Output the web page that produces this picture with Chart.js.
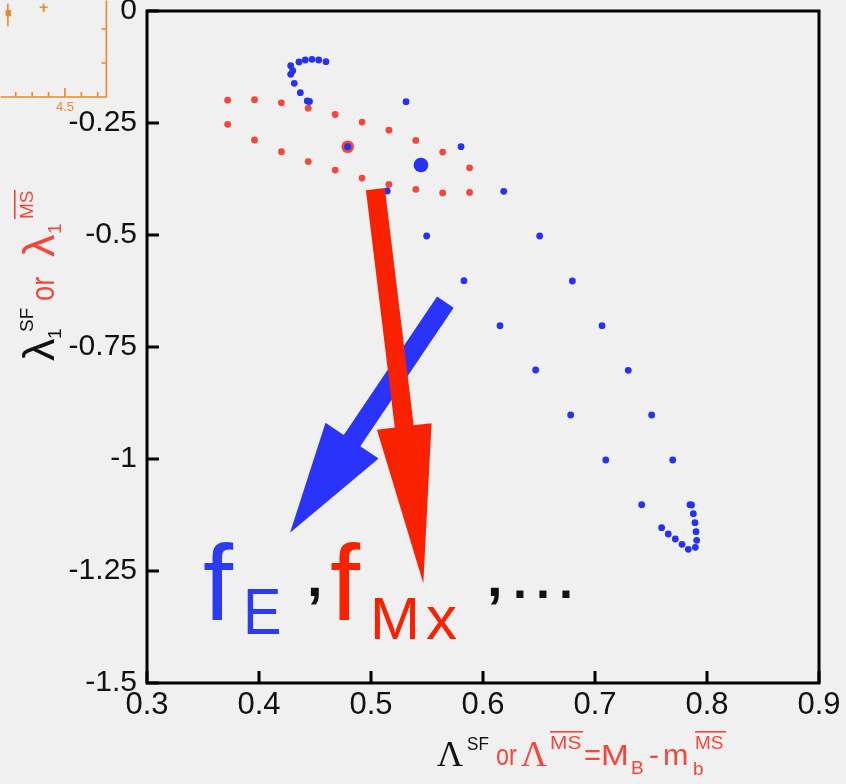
<!DOCTYPE html>
<html>
<head>
<meta charset="utf-8">
<script src="https://cdn.jsdelivr.net/npm/chart.js@4.4.1/dist/chart.umd.min.js"></script>
<style>
  html, body { margin: 0; padding: 0; background: #f0f0f0; }
  #wrap { position: relative; width: 846px; height: 784px; overflow: hidden; }
  canvas { position: absolute; left: 0; top: 0; }
</style>
</head>
<body>
<div id="wrap">
  <canvas id="inset" width="112" height="118"></canvas>
  <canvas id="main" width="846" height="784"></canvas>
</div>
<script>
// --- Data ---
const xTicks = [0.3, 0.4, 0.5, 0.6, 0.7, 0.8, 0.9];
const xTickLabels = ['0.3', '0.4', '0.5', '0.6', '0.7', '0.8', '0.9'];
const yTicks = [0, -0.25, -0.5, -0.75, -1, -1.25, -1.5];
const yTickLabels = ['0', '-0.25', '-0.5', '-0.75', '-1', '-1.25', '-1.5'];

// red (MS-bar) grid: two rows sharing the same x
const redX = [0.372, 0.396, 0.420, 0.444, 0.468, 0.492, 0.516, 0.540, 0.564, 0.588];
const redUpperY = [-0.199, -0.198, -0.205, -0.217, -0.231, -0.248, -0.266, -0.289, -0.315, -0.350];
const redLowerY = [-0.253, -0.288, -0.314, -0.336, -0.355, -0.373, -0.387, -0.398, -0.406, -0.405];

// blue (SF) points
const blueTopX = [0.4283, 0.4357, 0.4413, 0.4473, 0.4533, 0.4598, 0.4301, 0.4283, 0.4315, 0.4369, 0.4431, 0.4451];
const blueTopY = [-0.1221, -0.1138, -0.1094, -0.1078, -0.1094, -0.1132, -0.1333, -0.1413, -0.1614, -0.1824, -0.2009, -0.2020];
const blueRightX = [0.5313, 0.5804, 0.6185, 0.6506, 0.6798, 0.7063, 0.7297, 0.7506, 0.7694, 0.7848];
const blueRightY = [-0.2025, -0.3029, -0.4025, -0.5022, -0.6027, -0.7025, -0.8020, -0.9018, -1.0022, -1.1020];
const blueLeftX = [0.5145, 0.5497, 0.5830, 0.6152, 0.6470, 0.6783, 0.7096, 0.7417];
const blueLeftY = [-0.4018, -0.5022, -0.6020, -0.7025, -0.8013, -0.9018, -1.0022, -1.1020];
const blueHookX = [0.7862, 0.7878, 0.7893, 0.7902, 0.7908, 0.7896, 0.7833, 0.7777, 0.7717, 0.7654, 0.7595];
const blueHookY = [-1.1027, -1.1221, -1.1422, -1.1623, -1.1815, -1.1971, -1.2016, -1.1904, -1.1786, -1.1674, -1.1533];

// highlighted points
const bigBlue = [{ x: 0.5446, y: -0.3438 }];
const ringed = [{ x: 0.4792, y: -0.3029 }];

// arrows: tail -> tip (data units)
const arrowRed = { from: [0.5039, -0.3977], to: [0.5467, -1.2775] };
const arrowBlue = { from: [0.5664, -0.6500], to: [0.4277, -1.1645] };

// inset (cropped orange panel at top-left)
const insetXTicks = [4.2, 4.3, 4.4, 4.5, 4.6, 4.7];
const insetXLabels = ['', '', '', '4.5', '', ''];
const insetYTicks = [1, 2];
const insetSquare = [{ x: 4.152, y: 2.47 }];
const insetSquareErr = [2.08, 2.75];
const insetCross = [{ x: 4.37, y: 2.64 }];
const insetCrossErr = [2.5, 2.75];

const RED = '#f4473a';
const BLUE = '#2631f6';
const ORANGE = '#e98a2e';
const INK = '#111';

const zip = (xs, ys) => xs.map((x, i) => ({ x: x, y: ys[i] }));

const redPts = zip(redX, redUpperY).concat(zip(redX, redLowerY));
const bluePts = zip(blueTopX, blueTopY)
  .concat(zip(blueRightX, blueRightY))
  .concat(zip(blueLeftX, blueLeftY))
  .concat(zip(blueHookX, blueHookY));

// --- Plugins ---
function drawArrow(ctx, x0, y0, x1, y1, shaft, headW, headL, color) {
  const dx = x1 - x0, dy = y1 - y0;
  const len = Math.hypot(dx, dy);
  const ux = dx / len, uy = dy / len;
  const nx = -uy, ny = ux;
  const bx = x1 - ux * headL, by = y1 - uy * headL;
  ctx.beginPath();
  ctx.moveTo(x0 + nx * shaft / 2, y0 + ny * shaft / 2);
  ctx.lineTo(bx + nx * shaft / 2, by + ny * shaft / 2);
  ctx.lineTo(bx + nx * headW / 2, by + ny * headW / 2);
  ctx.lineTo(x1, y1);
  ctx.lineTo(bx - nx * headW / 2, by - ny * headW / 2);
  ctx.lineTo(bx - nx * shaft / 2, by - ny * shaft / 2);
  ctx.lineTo(x0 - nx * shaft / 2, y0 - ny * shaft / 2);
  ctx.closePath();
  ctx.fillStyle = color;
  ctx.fill();
}

const arrowsPlugin = {
  id: 'arrows',
  afterDatasetsDraw(chart) {
    const { ctx, scales: { x, y } } = chart;
    ctx.save();
    drawArrow(ctx, x.getPixelForValue(arrowBlue.from[0]), y.getPixelForValue(arrowBlue.from[1]),
      x.getPixelForValue(arrowBlue.to[0]), y.getPixelForValue(arrowBlue.to[1]), 20, 64, 111, '#2a33fa');
    drawArrow(ctx, x.getPixelForValue(arrowRed.from[0]), y.getPixelForValue(arrowRed.from[1]),
      x.getPixelForValue(arrowRed.to[0]), y.getPixelForValue(arrowRed.to[1]), 19, 55, 158, '#f82200');
    ctx.restore();
  }
};

// frame + inward ticks
const framePlugin = {
  id: 'frame',
  afterDraw(chart) {
    const { ctx, chartArea: a, scales: { x, y } } = chart;
    ctx.save();
    ctx.strokeStyle = '#000';
    ctx.lineWidth = 3;
    ctx.strokeRect(a.left, a.top, a.right - a.left, a.bottom - a.top);
    ctx.beginPath();
    xTicks.forEach(v => {
      const px = x.getPixelForValue(v);
      ctx.moveTo(px, a.bottom);
      ctx.lineTo(px, a.bottom - 12);
    });
    yTicks.forEach(v => {
      const py = y.getPixelForValue(v);
      ctx.moveTo(a.left, py);
      ctx.lineTo(a.left + 12, py);
    });
    ctx.stroke();
    ctx.restore();
  }
};

// text with optional horizontal squeeze/stretch
function txt(ctx, s, x, y, font, color, sx) {
  ctx.save();
  ctx.translate(x, y);
  ctx.scale(sx || 1, 1);
  ctx.font = font;
  ctx.fillStyle = color;
  ctx.fillText(s, 0, 0);
  ctx.restore();
}

// axis titles + handwritten annotation
const textPlugin = {
  id: 'texts',
  afterDraw(chart) {
    const ctx = chart.ctx;
    const sans = '"Liberation Sans", Arial, sans-serif';
    const serif = '"Liberation Serif", "Times New Roman", serif';
    ctx.save();
    ctx.textBaseline = 'alphabetic';
    ctx.textAlign = 'left';

    // x title
    txt(ctx, 'Λ', 437, 766, '36px ' + serif, INK);
    txt(ctx, 'SF', 467, 750, '19px ' + sans, INK, 0.9);
    txt(ctx, 'or', 496, 765, '30px ' + sans, RED, 0.78);
    txt(ctx, 'Λ', 521, 766, '36px ' + serif, RED);
    txt(ctx, 'MS', 550, 749, '19px ' + sans, RED, 1.1);
    ctx.fillStyle = RED;
    ctx.fillRect(550, 731, 33, 1.6);
    txt(ctx, '=', 584, 765, '29px ' + sans, RED);
    txt(ctx, 'M', 601, 765, '29px ' + sans, RED, 1.15);
    txt(ctx, 'B', 631, 774, '19px ' + sans, RED);
    txt(ctx, '-', 649, 765, '30px ' + sans, RED);
    txt(ctx, 'm', 663, 765, '29px ' + sans, RED, 1.05);
    txt(ctx, 'b', 693, 775, '19px ' + sans, RED);
    txt(ctx, 'MS', 695, 749, '19px ' + sans, RED);
    ctx.fillRect(695, 731, 31, 1.6);

    // y title (rotated)
    ctx.save();
    ctx.translate(54, 360);
    ctx.rotate(-Math.PI / 2);
    txt(ctx, 'λ', -1, 0, '45px ' + sans, INK);
    txt(ctx, '1', 21, 7, '19px ' + sans, INK);
    txt(ctx, 'SF', 28, -21, '19px ' + sans, INK);
    txt(ctx, 'or', 59, 0, '34px ' + sans, RED, 0.8);
    txt(ctx, 'λ', 103, 0, '45px ' + sans, RED);
    txt(ctx, '1', 126, 7, '19px ' + sans, RED);
    txt(ctx, 'MS', 141, -21, '19px ' + sans, RED);
    ctx.fillStyle = RED;
    ctx.fillRect(141, -40, 29, 1.6);
    ctx.restore();

    // handwritten note
    txt(ctx, 'f', 203, 620, '108px ' + sans, '#2b3cf0');
    txt(ctx, 'E', 243, 634, '64px ' + sans, '#2b3cf0', 0.9);
    txt(ctx, ',', 307, 596, 'bold 56px ' + sans, INK);
    txt(ctx, 'f', 330, 620, '108px ' + sans, '#f82200');
    txt(ctx, 'M', 370, 639, '60px ' + sans, '#f82200');
    txt(ctx, 'x', 426, 639, '62px ' + sans, '#f82200');
    txt(ctx, ',', 487, 596, 'bold 56px ' + sans, INK);
    txt(ctx, '.', 513, 598, 'bold 50px ' + sans, INK);
    txt(ctx, '.', 536, 598, 'bold 50px ' + sans, INK);
    txt(ctx, '.', 559, 598, 'bold 50px ' + sans, INK);
    ctx.restore();
  }
};

// --- Main chart ---
new Chart(document.getElementById('main'), {
  type: 'scatter',
  data: {
    datasets: [
      { data: ringed, pointRadius: 3.5, backgroundColor: BLUE, borderWidth: 0 },
      { data: ringed, pointRadius: 6.3, backgroundColor: RED, borderWidth: 0 },
      { data: bigBlue, pointRadius: 7.3, backgroundColor: BLUE, borderWidth: 0 },
      { data: bluePts, pointRadius: 3.4, backgroundColor: BLUE, borderWidth: 0 },
      { data: redPts, pointRadius: 3.4, backgroundColor: RED, borderWidth: 0 }
    ]
  },
  options: {
    responsive: false,
    animation: false,
    events: [],
    layout: { padding: { left: 0, right: 27, top: 11, bottom: 0 } },
    plugins: { legend: { display: false }, tooltip: { enabled: false } },
    scales: {
      x: {
        type: 'linear', min: 0.3, max: 0.9,
        afterBuildTicks: s => { s.ticks = xTicks.map(v => ({ value: v })); },
        afterFit: s => { s.height = 101; s.paddingLeft = 0; s.paddingRight = 0; },
        grid: { display: false, drawTicks: false },
        border: { display: false },
        ticks: {
          autoSkip: false, maxRotation: 0, padding: 4, color: INK,
          font: { family: 'Liberation Sans', size: 31 },
          callback: (v, i) => xTickLabels[i]
        }
      },
      y: {
        type: 'linear', min: -1.5, max: 0,
        afterBuildTicks: s => { s.ticks = yTicks.map(v => ({ value: v })); },
        afterFit: s => { s.width = 147; s.paddingTop = 0; s.paddingBottom = 0; },
        grid: { display: false, drawTicks: false },
        border: { display: false },
        ticks: {
          autoSkip: false, padding: 10, color: INK,
          font: { family: 'Liberation Sans', size: 30 },
          callback: (v, i) => yTickLabels[i]
        }
      }
    }
  },
  plugins: [arrowsPlugin, framePlugin, textPlugin]
});

// --- Inset (cropped orange panel) ---
const insetPlugin = {
  id: 'insetDeco',
  afterDraw(chart) {
    const { ctx, chartArea: a, scales: { x, y } } = chart;
    ctx.save();
    ctx.strokeStyle = ORANGE;
    ctx.lineWidth = 1.6;
    ctx.beginPath();
    ctx.moveTo(a.left - 5, a.bottom); ctx.lineTo(a.right, a.bottom); ctx.lineTo(a.right, a.top - 5);
    insetXTicks.forEach((v, i) => {
      const px = x.getPixelForValue(v);
      ctx.moveTo(px, a.bottom); ctx.lineTo(px, a.bottom - (insetXLabels[i] ? 9 : 5));
    });
    insetYTicks.forEach(v => {
      const py = y.getPixelForValue(v);
      ctx.moveTo(a.right, py); ctx.lineTo(a.right - 5, py);
    });
    // error bars
    const sx = x.getPixelForValue(insetSquare[0].x);
    ctx.moveTo(sx, y.getPixelForValue(insetSquareErr[0])); ctx.lineTo(sx, y.getPixelForValue(insetSquareErr[1]));
    const cx = x.getPixelForValue(insetCross[0].x);
    ctx.moveTo(cx, y.getPixelForValue(insetCrossErr[0])); ctx.lineTo(cx, y.getPixelForValue(insetCrossErr[1]));
    ctx.stroke();
    ctx.restore();
  }
};

new Chart(document.getElementById('inset'), {
  type: 'scatter',
  data: {
    datasets: [
      { data: insetSquare, pointStyle: 'rect', pointRadius: 4.5, backgroundColor: ORANGE, borderWidth: 0 },
      { data: insetCross, pointStyle: 'cross', pointRadius: 4, borderColor: ORANGE, borderWidth: 1.6 }
    ]
  },
  options: {
    responsive: false,
    animation: false,
    events: [],
    layout: { padding: 0 },
    plugins: { legend: { display: false }, tooltip: { enabled: false } },
    scales: {
      x: {
        type: 'linear', min: 4.138, max: 4.753,
        afterBuildTicks: s => { s.ticks = insetXTicks.map(v => ({ value: v })); },
        afterFit: s => { s.height = 21; s.paddingLeft = 0; s.paddingRight = 0; },
        grid: { display: false, drawTicks: false },
        border: { display: false },
        ticks: {
          autoSkip: false, maxRotation: 0, padding: 3, color: ORANGE,
          font: { family: 'Liberation Sans', size: 13 },
          callback: (v, i) => insetXLabels[i]
        }
      },
      y: {
        type: 'linear', position: 'right', min: 0, max: 2.69,
        afterFit: s => { s.width = 5; s.paddingTop = 0; s.paddingBottom = 0; },
        grid: { display: false, drawTicks: false },
        border: { display: false },
        ticks: { display: false }
      }
    }
  },
  plugins: [insetPlugin]
});
</script>
</body>
</html>
